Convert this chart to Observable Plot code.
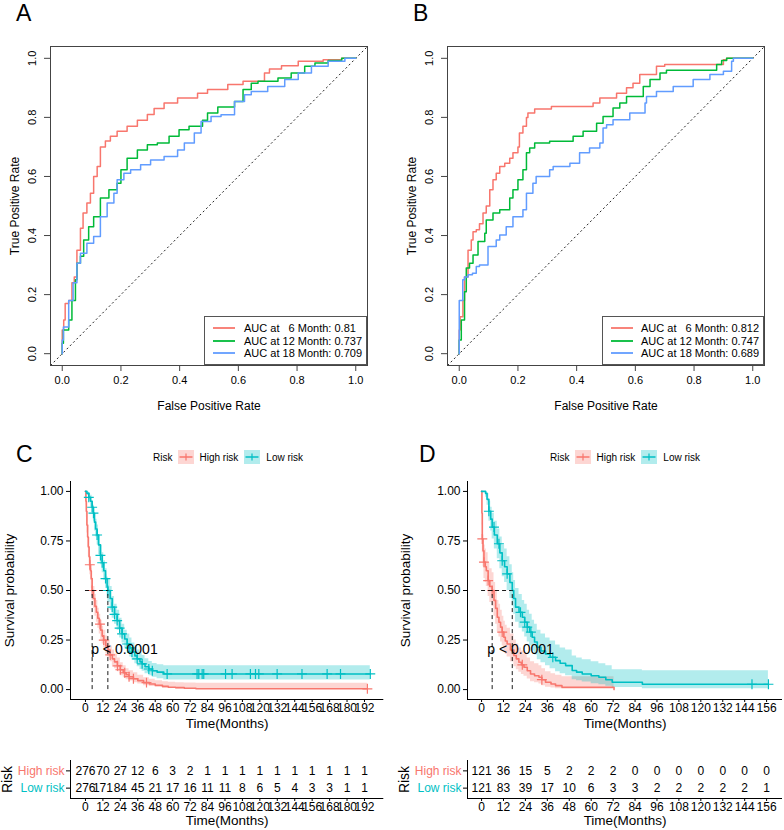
<!DOCTYPE html>
<html><head><meta charset="utf-8">
<script src="https://cdn.jsdelivr.net/npm/d3@7"></script>
<script src="https://cdn.jsdelivr.net/npm/@observablehq/plot@0.6"></script>
<style>
body{margin:0;background:#fff;font-family:"Liberation Sans",Arial,Helvetica,sans-serif;}
#root{position:relative;width:784px;height:830px;overflow:hidden;background:#fff;}
.lbl{position:absolute;font-size:23px;line-height:1;color:#000;}
.rocleg{position:absolute;box-sizing:border-box;border:1px solid #555;background:#fff;font-size:11px;}
.rocleg .row{position:absolute;left:0;height:12px;display:flex;align-items:center;white-space:pre;}
.survleg{position:absolute;display:flex;align-items:center;height:14px;font-size:10px;white-space:pre;}
</style></head>
<body><div id="root"></div>
<script>
const FONT = '"Liberation Sans", Arial, Helvetica, sans-serif';

// ---------- ROC data ----------
const ROC_TICKS = [0, 0.2, 0.4, 0.6, 0.8, 1.0];
const ROC_DOMAIN = [-0.04, 1.04];
const ROC_COLORS = ["#F8766D", "#00BA38", "#619CFF"];
const ROC_MONTHS = ["  6", "12", "18"];

const A6_fpr = [0,0.005,0.01,0.022,0.033,0.041,0.05,0.062,0.071,0.084,0.096,0.107,0.119,0.13,0.147,0.164,0.187,0.221,0.256,0.29,0.313,0.347,0.393,0.461,0.495,0.564,0.616,0.689,0.706,0.747,0.804,0.889,0.952,1];
const A6_tpr = [0,0.08,0.114,0.17,0.18,0.24,0.26,0.35,0.425,0.476,0.51,0.543,0.6,0.634,0.70,0.72,0.736,0.753,0.77,0.79,0.81,0.83,0.849,0.866,0.882,0.894,0.911,0.922,0.95,0.964,0.975,0.99,0.995,1];
const A12_fpr = [0,0.004,0.022,0.033,0.045,0.05,0.062,0.073,0.09,0.107,0.13,0.159,0.187,0.2,0.221,0.256,0.29,0.324,0.364,0.398,0.432,0.478,0.495,0.53,0.587,0.616,0.644,0.667,0.735,0.78,0.826,0.861,0.906,0.952,1];
const A12_tpr = [0,0.035,0.08,0.114,0.18,0.25,0.306,0.33,0.385,0.43,0.464,0.527,0.555,0.577,0.623,0.662,0.69,0.707,0.713,0.736,0.758,0.77,0.79,0.815,0.835,0.854,0.894,0.916,0.922,0.933,0.95,0.973,0.984,0.993,1];
const A18_fpr = [0,0.004,0.022,0.037,0.05,0.062,0.084,0.107,0.13,0.153,0.176,0.187,0.21,0.233,0.267,0.301,0.347,0.393,0.416,0.45,0.473,0.507,0.541,0.587,0.621,0.644,0.7,0.758,0.804,0.849,0.906,0.963,1];
const A18_tpr = [0,0.046,0.09,0.18,0.24,0.306,0.34,0.374,0.397,0.464,0.51,0.543,0.589,0.611,0.623,0.64,0.656,0.668,0.69,0.713,0.747,0.786,0.803,0.809,0.854,0.877,0.888,0.905,0.928,0.95,0.973,0.99,1];
const A_AUC = ["0.81", "0.737", "0.709"];

const B6_fpr = [0,0.003,0.0125,0.018,0.03,0.03,0.041,0.047,0.058,0.069,0.081,0.092,0.104,0.115,0.126,0.138,0.155,0.172,0.183,0.2,0.205,0.217,0.229,0.234,0.257,0.314,0.456,0.479,0.536,0.57,0.592,0.615,0.672,0.7,0.9,0.911,0.934,1];
const B6_tpr = [0,0.08,0.125,0.18,0.26,0.33,0.35,0.385,0.413,0.42,0.44,0.476,0.5,0.555,0.589,0.611,0.634,0.645,0.662,0.68,0.70,0.747,0.77,0.80,0.815,0.828,0.837,0.849,0.866,0.882,0.9,0.916,0.945,0.973,0.979,0.995,1,1];
const B12_fpr = [0,0.007,0.007,0.018,0.024,0.035,0.047,0.064,0.087,0.092,0.115,0.138,0.172,0.183,0.2,0.217,0.229,0.24,0.257,0.308,0.388,0.422,0.468,0.49,0.524,0.547,0.57,0.627,0.65,0.684,0.706,0.877,0.894,0.911,0.945,1];
const B12_tpr = [0,0.046,0.08,0.114,0.21,0.29,0.306,0.334,0.38,0.408,0.453,0.476,0.487,0.527,0.555,0.589,0.623,0.68,0.696,0.713,0.719,0.736,0.753,0.78,0.803,0.832,0.849,0.871,0.905,0.928,0.95,0.96,0.979,0.993,1,1];
const B18_fpr = [0,0.001,0.012,0.018,0.03,0.045,0.058,0.069,0.098,0.098,0.126,0.138,0.16,0.183,0.217,0.229,0.251,0.262,0.308,0.32,0.377,0.41,0.444,0.479,0.49,0.502,0.524,0.581,0.633,0.638,0.672,0.729,0.797,0.854,0.9,0.928,0.934,0.957,1];
const B18_tpr = [0,0.18,0.18,0.25,0.26,0.267,0.272,0.295,0.3,0.35,0.363,0.385,0.402,0.43,0.464,0.487,0.543,0.577,0.6,0.623,0.634,0.645,0.68,0.696,0.713,0.764,0.775,0.792,0.815,0.849,0.871,0.888,0.905,0.928,0.945,0.956,0.99,1,1];
const B_AUC = ["0.812", "0.747", "0.689"];

// ---------- Survival data ----------
const SURV_COLORS = {"High risk": "#F8766D", "Low risk": "#00BFC4"};
const RISK_GROUPS = ["High risk", "Low risk"];
const SURV_YTICKS = [0, 0.25, 0.5, 0.75, 1];
const P_LABEL = "p < 0.0001";

// Panel C
const C_XTICKS = [0,12,24,36,48,60,72,84,96,108,120,132,144,156,168,180,192];
const C_XDOMAIN = [-10.3, 205.3];
const C_high_t  = [0,0.3,0.6,1,1.5,2,2.5,3,3.5,4,4.6,5.5,6.5,7.5,8.5,9.5,10.5,11.5,12.5,14,15.5,17,18.5,20,22,24,26,28,30,33,36,40,44,48,53,57,62,68,76,194];
const C_high_s  = [1,0.95,0.9,0.83,0.77,0.72,0.67,0.63,0.6,0.56,0.5,0.46,0.42,0.39,0.36,0.33,0.3,0.27,0.25,0.22,0.2,0.175,0.155,0.14,0.12,0.1,0.085,0.075,0.065,0.055,0.045,0.035,0.028,0.022,0.016,0.012,0.01,0.007,0.004,0.004];
const C_high_lo = [1,0.93,0.87,0.79,0.72,0.67,0.62,0.58,0.55,0.51,0.45,0.41,0.37,0.34,0.31,0.28,0.25,0.23,0.21,0.18,0.16,0.14,0.12,0.105,0.09,0.07,0.06,0.05,0.043,0.035,0.028,0.02,0.015,0.011,0.007,0.005,0.003,0.002,0.001,0.001];
const C_high_hi = [1,0.97,0.93,0.87,0.82,0.77,0.72,0.68,0.65,0.61,0.56,0.52,0.48,0.45,0.41,0.38,0.35,0.32,0.3,0.27,0.25,0.22,0.2,0.18,0.16,0.135,0.12,0.105,0.095,0.085,0.072,0.06,0.052,0.045,0.04,0.037,0.035,0.033,0.032,0.032];
const C_high_cens = [3,4.6,10,12.6,17,22,24,27,30,33,42,194];
const C_low_t  = [0,1,2.3,3.5,4.6,5.5,6.2,7,8,9,10.3,11.5,12.6,13.8,14.9,15.4,17,18.4,20,21.8,23.5,25.2,27,28.7,30.5,32,34,35.6,37.5,39,41,43.6,46,49.3,53.9,196];
const C_low_s  = [1,0.99,0.97,0.95,0.92,0.89,0.845,0.81,0.78,0.73,0.677,0.64,0.6,0.56,0.517,0.5,0.46,0.416,0.38,0.348,0.31,0.281,0.255,0.23,0.21,0.189,0.17,0.155,0.14,0.13,0.115,0.104,0.095,0.088,0.079,0.079];
const C_low_lo = [1,0.98,0.95,0.92,0.89,0.85,0.8,0.77,0.73,0.68,0.63,0.59,0.55,0.51,0.46,0.44,0.4,0.36,0.33,0.3,0.26,0.235,0.21,0.185,0.165,0.148,0.13,0.115,0.102,0.093,0.08,0.07,0.062,0.055,0.048,0.045];
const C_low_hi = [1,1,0.99,0.98,0.95,0.93,0.89,0.86,0.83,0.78,0.73,0.69,0.65,0.61,0.57,0.56,0.52,0.47,0.43,0.4,0.36,0.33,0.3,0.28,0.26,0.235,0.215,0.2,0.185,0.172,0.155,0.142,0.132,0.125,0.12,0.12];
const C_low_cens = [2.3,4.6,5.5,8,10.3,11.5,13.8,15.4,18.4,20,21.8,23.5,25.2,28.7,30.5,32,35.6,39,43.6,46,56.2,76.8,78,80.3,81.4,96.4,100.9,113.5,117,119.3,131.9,149,166.3,175.5,196];
const C_MEDIANS = [4.6, 15.4];
const C_PX = 3.9;
const C_high_n = [276,70,27,12,6,3,2,1,1,1,1,1,1,1,1,1,1];
const C_low_n  = [276,171,84,45,21,17,16,11,11,8,6,5,4,3,3,1,1];

// Panel D
const D_XTICKS = [0,12,24,36,48,60,72,84,96,108,120,132,144,156];
const D_XDOMAIN = [-7.7, 164.7];
const D_high_t  = [0,0.2,0.4,0.8,1.3,2,2.6,3.6,4.5,5.8,6.8,7.7,8.6,9.5,10.4,11.3,12.2,13,14,15.8,17.7,19,20.4,21.8,23.2,25,26.8,29,31.4,33,35,38,40.5,44,72.5];
const D_high_s  = [1,0.89,0.76,0.7,0.643,0.62,0.6,0.55,0.52,0.5,0.45,0.41,0.365,0.34,0.315,0.29,0.264,0.245,0.23,0.2,0.172,0.155,0.138,0.125,0.113,0.095,0.079,0.07,0.062,0.05,0.037,0.028,0.02,0.012,0];
const D_high_lo = [1,0.83,0.69,0.62,0.56,0.54,0.52,0.47,0.44,0.42,0.37,0.33,0.29,0.265,0.24,0.22,0.195,0.178,0.165,0.14,0.115,0.1,0.087,0.076,0.067,0.053,0.04,0.034,0.028,0.02,0.012,0.008,0.004,0.002,0];
const D_high_hi = [1,0.94,0.84,0.78,0.73,0.71,0.69,0.64,0.61,0.59,0.54,0.5,0.45,0.43,0.4,0.37,0.345,0.325,0.31,0.28,0.25,0.23,0.21,0.195,0.18,0.16,0.14,0.13,0.12,0.105,0.09,0.08,0.072,0.065,0];
const D_high_cens = [0.4,1.3,3.6,5.8,11.3,22.3,33];
const D_low_t  = [0,2.2,3,4,5,5.8,7,8.6,10,11.3,12.6,14,15.5,16.8,17.6,18.6,20.5,22.3,23.6,25,26.3,27.7,29,30.5,32.5,35,37.5,40.5,43,46,49.6,52,55.1,60,64.2,68,71.5,88,157];
const D_low_s  = [1,0.99,0.96,0.9,0.86,0.82,0.78,0.736,0.69,0.65,0.62,0.584,0.54,0.5,0.46,0.416,0.39,0.365,0.34,0.315,0.29,0.264,0.24,0.214,0.195,0.18,0.163,0.146,0.133,0.121,0.096,0.088,0.079,0.07,0.062,0.05,0.037,0.027,0.027];
const D_low_lo = [1,0.97,0.93,0.85,0.8,0.76,0.71,0.66,0.61,0.57,0.54,0.5,0.46,0.42,0.38,0.34,0.31,0.29,0.265,0.24,0.22,0.195,0.175,0.15,0.135,0.12,0.105,0.09,0.08,0.07,0.05,0.044,0.038,0.03,0.025,0.017,0.01,0.004,0.004];
const D_low_hi = [1,1,0.99,0.95,0.92,0.89,0.85,0.81,0.77,0.73,0.71,0.67,0.63,0.59,0.55,0.51,0.48,0.45,0.43,0.4,0.38,0.35,0.33,0.3,0.28,0.26,0.245,0.225,0.21,0.2,0.17,0.16,0.15,0.14,0.13,0.12,0.1,0.095,0.095];
const D_low_cens = [4,6.8,9.5,11.3,14,21.3,23.6,25,27,39,148,157];
const D_MEDIANS = [5.8, 16.8];
const D_PX = 3.1;
const D_high_n = [121,36,15,5,2,2,2,0,0,0,0,0,0,0];
const D_low_n  = [121,83,39,17,10,6,3,3,2,2,2,2,2,1];

// ---------- helpers ----------
const root = document.getElementById("root");
function place(el, left, top) {
  el.style.position = "absolute"; el.style.left = left + "px"; el.style.top = top + "px";
  root.appendChild(el); return el;
}
function label(text, left, top) {
  const d = document.createElement("div"); d.className = "lbl"; d.textContent = text;
  place(d, left, top);
}
const baseStyle = {fontFamily: FONT, fontSize: "12px", background: "transparent", overflow: "visible", color: "#000"};
const MID = {textAnchor: "middle", lineAnchor: "middle"};

function rocPanel(series, left, mL, mR) {
  const fmt = d3.format(".1f");
  const marks = [
    Plot.link([ROC_DOMAIN], {x1: d => d[0], y1: d => d[0], x2: d => d[1], y2: d => d[1], stroke: "#222", strokeWidth: 1, strokeDasharray: "2,2.6"})
  ];
  series.forEach((s, i) => {
    marks.push(Plot.line(d3.zip(s[0], s[1]), {x: d => d[0], y: d => d[1], stroke: ROC_COLORS[i], strokeWidth: 1.5, curve: "step-before"}));
  });
  marks.push(
    Plot.frame({stroke: "#444", strokeWidth: 1}),
    Plot.axisX({ticks: ROC_TICKS, tickSize: 6, tickPadding: 5, tickFormat: fmt, fontSize: 11, label: null, stroke: "#444"}),
    Plot.axisY({ticks: ROC_TICKS, tickSize: 6, tickFormat: () => "", label: null, stroke: "#444"}),
    Plot.text(ROC_TICKS, {frameAnchor: "left", y: d => d, text: d => fmt(d), rotate: -90, dx: -18, fontSize: 11, ...MID}),
    Plot.text(["False Positive Rate"], {frameAnchor: "bottom", text: d => d, dy: 41, fontSize: 12, ...MID}),
    Plot.text(["True Positive Rate"], {frameAnchor: "left", text: d => d, dx: -35, rotate: -90, fontSize: 12, ...MID})
  );
  const svg = Plot.plot({
    width: 392, height: 420, marginLeft: mL, marginRight: mR, marginTop: 46, marginBottom: 55,
    x: {domain: ROC_DOMAIN}, y: {domain: ROC_DOMAIN},
    style: baseStyle, marks
  });
  place(svg, left, 0);
}

function rocLegend(aucs, left, top, width, height, lineLeft, textLeft) {
  const box = document.createElement("div"); box.className = "rocleg";
  box.style.width = width + "px"; box.style.height = height + "px";
  const rowsY = [12, 25, 37];
  aucs.forEach((a, i) => {
    const r = document.createElement("div"); r.className = "row";
    r.style.top = (rowsY[i] - 6 - 1) + "px";
    r.style.left = (lineLeft - 1) + "px";
    const sw = document.createElementNS("http://www.w3.org/2000/svg", "svg");
    sw.setAttribute("width", textLeft - lineLeft); sw.setAttribute("height", 12);
    const ln = document.createElementNS("http://www.w3.org/2000/svg", "line");
    ln.setAttribute("x1", 0); ln.setAttribute("x2", 22); ln.setAttribute("y1", 6); ln.setAttribute("y2", 6);
    ln.setAttribute("stroke", ROC_COLORS[i]); ln.setAttribute("stroke-width", 1.8);
    sw.appendChild(ln); r.appendChild(sw);
    const t = document.createElement("span");
    t.textContent = "AUC at " + ROC_MONTHS[i] + " Month: " + a;
    r.appendChild(t); box.appendChild(r);
  });
  place(box, left, top);
}

function survAt(ts, ss, c) { let v = ss[0]; for (let i = 0; i < ts.length; i++) if (ts[i] <= c) v = ss[i]; return v; }

function survPanel(cfg) {
  const marks = [];
  cfg.groups.forEach(g => {
    const rows = g.t.map((t, i) => ({t, s: g.s[i], lo: g.lo[i], hi: g.hi[i]}));
    marks.push(Plot.areaY(rows, {x: "t", y1: "lo", y2: "hi", fill: SURV_COLORS[g.name], fillOpacity: 0.3, curve: "step-after"}));
  });
  cfg.groups.forEach(g => {
    const rows = g.t.map((t, i) => ({t, s: g.s[i]}));
    marks.push(Plot.line(rows, {x: "t", y: "s", stroke: SURV_COLORS[g.name], strokeWidth: 1.6, curve: "step-after"}));
    marks.push(Plot.dot(g.cens, {x: d => d, y: d => survAt(g.t, g.s, d), symbol: "plus", r: 3.3, stroke: SURV_COLORS[g.name], strokeWidth: 1.2}));
  });
  marks.push(
    Plot.ruleX(cfg.medians, {x: d => d, y1: d => 0, y2: d => 0.5, stroke: "#000", strokeWidth: 0.9, strokeDasharray: "4,3"}),
    Plot.ruleY([0.5], {x1: d => 0, x2: d => d3.max(cfg.medians), stroke: "#000", strokeWidth: 0.9, strokeDasharray: "4,3"}),
    Plot.text([P_LABEL], {x: d => cfg.px, y: d => 0.2, text: d => d, textAnchor: "start", lineAnchor: "middle", fontSize: 14}),
    Plot.ruleX([cfg.xDomain[0]], {stroke: "#000", strokeWidth: 1}),
    Plot.ruleY([-0.05], {stroke: "#000", strokeWidth: 1}),
    Plot.axisX({ticks: cfg.xTicks, tickSize: 3, tickPadding: 0.5, fontSize: 12, label: null}),
    Plot.axisY({ticks: SURV_YTICKS, tickSize: 4, tickPadding: 3, tickFormat: d3.format(".2f"), fontSize: 12, label: null}),
    Plot.text(["Time(Months)"], {frameAnchor: "bottom", text: d => d, dy: 24.5, fontSize: 13.5, ...MID}),
    Plot.text(["Survival probability"], {frameAnchor: "left", text: d => d, dx: cfg.yTitleDx, rotate: -90, fontSize: 13.5, ...MID})
  );
  const svg = Plot.plot({
    width: 392, height: 300, marginLeft: cfg.mL, marginRight: cfg.mR, marginTop: 51, marginBottom: 31,
    x: {domain: cfg.xDomain}, y: {domain: [-0.05, 1.05]},
    style: baseStyle, marks
  });
  place(svg, cfg.left, 430);
}

function riskTable(cfg) {
  const rowOf = {"High risk": 2, "Low risk": 1};
  const rows = [];
  cfg.counts.forEach((arr, gi) => arr.forEach((n, i) => rows.push({t: cfg.xTicks[i], row: rowOf[RISK_GROUPS[gi]], n})));
  const marks = [
    Plot.text(rows, {x: "t", y: "row", text: "n", fontSize: 12}),
    Plot.ruleX([cfg.xDomain[0]], {stroke: "#000"}),
    Plot.ruleY([0.4], {stroke: "#000"}),
    Plot.axisX({ticks: cfg.xTicks, tickSize: 3, tickPadding: 0.5, fontSize: 12, label: null}),
    Plot.axisY({ticks: [1, 2], tickSize: 4, tickFormat: () => "", label: null})
  ];
  RISK_GROUPS.forEach(g => marks.push(Plot.text([g], {frameAnchor: "left", y: d => rowOf[d], text: d => d, textAnchor: "end", lineAnchor: "middle", dx: -6, fill: SURV_COLORS[g], fontSize: 12})));
  marks.push(
    Plot.text(["Risk"], {frameAnchor: "left", text: d => d, dx: -63, rotate: -90, fontSize: 14, ...MID}),
    Plot.text(["Time(Months)"], {frameAnchor: "bottom", text: d => d, dy: 22, fontSize: 13.5, ...MID})
  );
  const svg = Plot.plot({
    width: 392, height: 95, marginLeft: cfg.mL, marginRight: cfg.mR, marginTop: 25, marginBottom: 32,
    x: {domain: cfg.xDomain}, y: {domain: [0.4, 2.6]},
    style: baseStyle, marks
  });
  place(svg, cfg.left, 735);
}

function survLegend(left, top) {
  const d = document.createElement("div"); d.className = "survleg";
  const add = (txt, mr) => { const s = document.createElement("span"); s.textContent = txt; s.style.marginRight = mr + "px"; d.appendChild(s); };
  const key = (color, mr) => {
    const ns = "http://www.w3.org/2000/svg";
    const sv = document.createElementNS(ns, "svg"); sv.setAttribute("width", 16); sv.setAttribute("height", 14);
    sv.style.marginRight = mr + "px";
    const r = document.createElementNS(ns, "rect"); r.setAttribute("width", 16); r.setAttribute("height", 14);
    r.setAttribute("fill", color); r.setAttribute("fill-opacity", 0.3); sv.appendChild(r);
    const l = document.createElementNS(ns, "line"); l.setAttribute("x1", 1.5); l.setAttribute("x2", 14.5); l.setAttribute("y1", 7); l.setAttribute("y2", 7);
    l.setAttribute("stroke", color); l.setAttribute("stroke-width", 1.5); sv.appendChild(l);
    const v = document.createElementNS(ns, "line"); v.setAttribute("x1", 8); v.setAttribute("x2", 8); v.setAttribute("y1", 3.5); v.setAttribute("y2", 10.5);
    v.setAttribute("stroke", color); v.setAttribute("stroke-width", 1.2); sv.appendChild(v);
    d.appendChild(sv);
  };
  add("Risk", 6);
  key(SURV_COLORS["High risk"], 5);
  add("High risk", 6);
  key(SURV_COLORS["Low risk"], 6);
  add("Low risk", 0);
  place(d, left, top);
}

// ---------- build ----------
rocPanel([[A6_fpr, A6_tpr], [A12_fpr, A12_tpr], [A18_fpr, A18_tpr]], 0, 50, 25);
rocPanel([[B6_fpr, B6_tpr], [B12_fpr, B12_tpr], [B18_fpr, B18_tpr]], 392, 55, 20);
rocLegend(A_AUC, 204, 316, 163, 49, 9, 40);
rocLegend(B_AUC, 602, 316, 162, 49, 9, 39);

survPanel({left: 0, mL: 70, mR: 8.7, xDomain: C_XDOMAIN, xTicks: C_XTICKS, medians: C_MEDIANS, px: C_PX, yTitleDx: -61,
  groups: [
    {name: "High risk", t: C_high_t, s: C_high_s, lo: C_high_lo, hi: C_high_hi, cens: C_high_cens},
    {name: "Low risk", t: C_low_t, s: C_low_s, lo: C_low_lo, hi: C_low_hi, cens: C_low_cens}
  ]});
survPanel({left: 392, mL: 75, mR: 2, xDomain: D_XDOMAIN, xTicks: D_XTICKS, medians: D_MEDIANS, px: D_PX, yTitleDx: -62,
  groups: [
    {name: "High risk", t: D_high_t, s: D_high_s, lo: D_high_lo, hi: D_high_hi, cens: D_high_cens},
    {name: "Low risk", t: D_low_t, s: D_low_s, lo: D_low_lo, hi: D_low_hi, cens: D_low_cens}
  ]});
riskTable({left: 0, mL: 70, mR: 8.7, xDomain: C_XDOMAIN, xTicks: C_XTICKS, counts: [C_high_n, C_low_n]});
riskTable({left: 392, mL: 75, mR: 2, xDomain: D_XDOMAIN, xTicks: D_XTICKS, counts: [D_high_n, D_low_n]});
survLegend(153, 450);
survLegend(550, 450);

label("A", 16, 2);
label("B", 413, 2);
label("C", 16, 443);
label("D", 419, 443);
</script>
</body></html>
